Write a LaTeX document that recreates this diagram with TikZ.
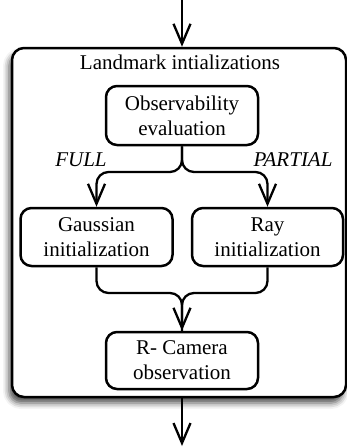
\documentclass[tikz,border=0pt]{standalone}
\usepackage{fontspec}
\setmainfont{Liberation Serif}
\usetikzlibrary{arrows.meta,shadows.blur}
\begin{document}
\begin{tikzpicture}[x=1pt,y=-1pt,
  font=\fontsize{21}{25}\selectfont,
  box/.style={draw, line width=2.5pt, rounded corners=11pt, align=center, inner sep=0pt, fill=white},
  outerbox/.style={draw, line width=2.5pt, rounded corners=12pt, fill=white, inner sep=0pt,
    blur shadow={shadow xshift=-3pt, shadow yshift=-6pt, shadow blur radius=6pt, shadow opacity=70}},
  arr/.style={line width=2.3pt, -{Straight Barb[length=20pt,width=17pt]}},
  conn/.style={line width=2.3pt, rounded corners=12pt},
  lbl/.style={font=\fontsize{21}{25}\selectfont\itshape}]
\useasboundingbox (0,0) rectangle (347,448);
\node[outerbox, minimum width=334pt, minimum height=349pt] (outer) at (179,222.5) {};
\node (title) at (180,62) {Landmark intializations};
\node[box, minimum width=152pt, minimum height=59pt] (obs) at (182,115.5) {Observability\\evaluation};
\node[box, minimum width=152pt, minimum height=58pt] (gauss) at (96.5,237) {Gaussian\\initialization};
\node[box, minimum width=151pt, minimum height=58pt] (ray) at (267.5,237) {Ray\\initialization};
\node[box, minimum width=152pt, minimum height=57pt] (cam) at (182,360.5) {R- Camera\\observation};
\node[lbl] (full) at (81,160) {FULL};
\node[lbl] (partial) at (293,160) {PARTIAL};
\coordinate (split) at (182,172);
\coordinate (merge) at (182,293);
\coordinate (in) at (182,0);
\coordinate (out) at (182,446);
\draw[arr] (in) -- (in |- outer.north);
\draw[conn,arr] (obs.south) |- (gauss.north |- split) -- (gauss.north);
\draw[conn,arr] (obs.south) |- (ray.north |- split) -- (ray.north);
\draw[conn,arr] (gauss.south) |- (merge) -- (cam.north);
\draw[conn] (ray.south) |- (merge) -- (cam.north);
\draw[arr] (out |- outer.south) -- (out);
\end{tikzpicture}
\end{document}
